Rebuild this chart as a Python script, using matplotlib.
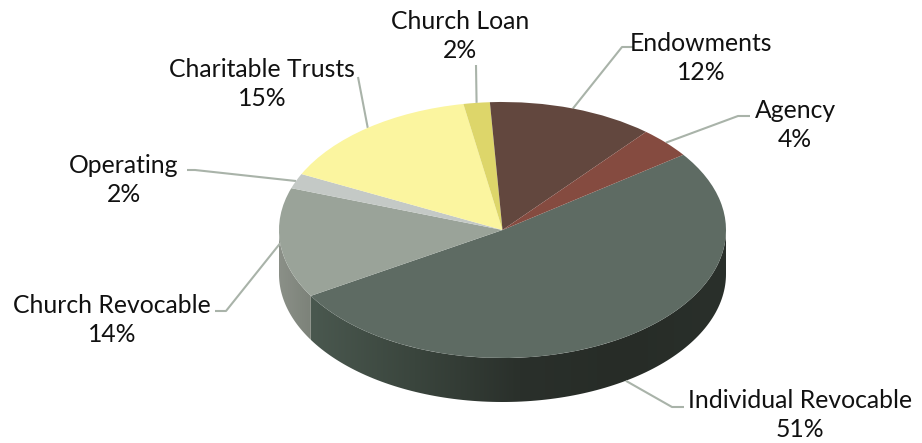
import numpy as np
import matplotlib
matplotlib.use('Agg')
import matplotlib.pyplot as plt
from matplotlib.colors import LinearSegmentedColormap
from matplotlib.patches import Polygon

categories = ['Individual Revocable', 'Church Revocable', 'Operating', 'Charitable Trusts',
              'Church Loan', 'Endowments', 'Agency']
shares = [51.4, 13.9, 1.9, 15.0, 1.9, 12.0, 3.9]
colors = ['#5e6b63', '#9aa399', '#c4c9c6', '#fbf59f', '#ddd66a', '#62473e', '#854b40']

# pixel layout of the squashed pie
W, H = 922, 443
CX, CY, RX, RY = 502.5, 230, 223.5, 128
DEPTH = 44 / RY

# label centres and leader elbows, in picture pixels
label_xy = [(800, 415), (112, 320), (124, 180), (262, 84), (460, 36), (701, 58), (795, 125)]
elbow_a = [(672, 407), (226, 311), (195, 170), (358, 77), (476, 65), (622, 47), (738, 116)]
elbow_b = [(684, 407), (215, 311), (187, 170), (358, 77), (476, 65), (634, 47), (750, 116)]

wall_individual = ['#4a584f', '#3a453d', '#2a302b', '#272c27', '#2a302b']
wall_church = ['#8b9088', '#7c8279']


def to_data(x, y):
    return (x - CX) / RX, (CY - y) / RY


def draw_wall(ax, t1, t2, stops):
    # side of a wedge between two angles on the front half
    t = np.radians(np.linspace(t1, t2, 120))
    top = np.column_stack([np.cos(t), np.sin(t)])
    low = top[::-1] - [0, DEPTH]
    clip = Polygon(np.vstack([top, low]), closed=True, fc='none', ec='none')
    ax.add_patch(clip)
    cmap = LinearSegmentedColormap.from_list('wall', stops)
    im = ax.imshow(np.linspace(0, 1, 256).reshape(1, -1), cmap=cmap, aspect='auto', zorder=0,
                   extent=[top[:, 0].min(), top[:, 0].max(), -1 - DEPTH, 0], interpolation='bilinear')
    im.set_clip_path(clip)


plt.rcParams['font.family'] = ['Lato', 'DejaVu Sans']
fig = plt.figure(figsize=(W / 100, H / 100), dpi=100)
ax = fig.add_axes([0, 0, 1, 1])

wedges, _ = ax.pie(shares, colors=colors, startangle=36, counterclock=False, radius=1,
                   wedgeprops={'linewidth': 0})

draw_wall(ax, wedges[0].theta1, 0, wall_individual)
draw_wall(ax, -180, wedges[0].theta1, wall_church)

ax.set_aspect('auto')
x0, y1 = to_data(0, 0)
x1, y0 = to_data(W, H)
ax.set_xlim(x0, x1)
ax.set_ylim(y0, y1)
ax.axis('off')

for i, name in enumerate(categories):
    w = wedges[i]
    mid = np.radians((w.theta1 + w.theta2) / 2)
    sx, sy = np.cos(mid), np.sin(mid)
    if i == 0:
        sy -= DEPTH
    pts = [(sx, sy), to_data(*elbow_a[i]), to_data(*elbow_b[i])]
    ax.plot(*zip(*pts), color='#a9b3a9', lw=1.5, zorder=0.5, solid_capstyle='butt')
    lx, ly = to_data(*label_xy[i])
    ax.text(lx, ly, f'{name}\n{shares[i]:.0f}%', ha='center', va='center', fontsize=17.8,
            color='#111111', linespacing=1.33)

fig.savefig('out.png', dpi=100)
